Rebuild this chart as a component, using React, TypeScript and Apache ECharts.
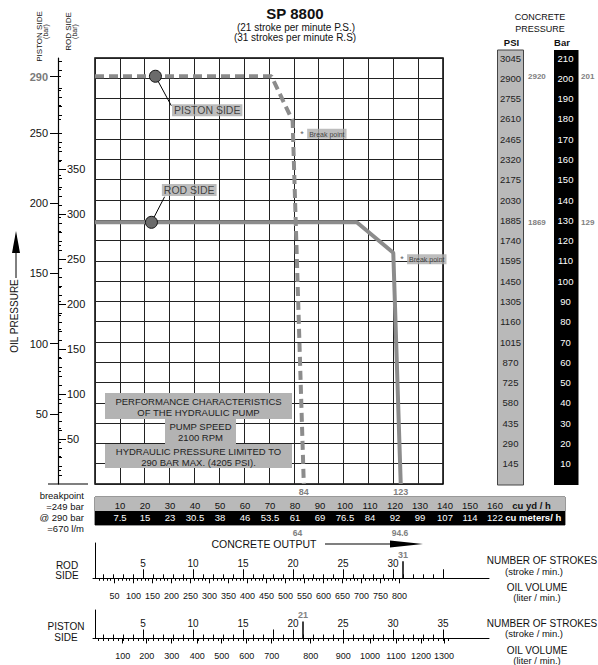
import React, { useEffect, useRef } from "react";
import * as echarts from "echarts";

const FONT = "'Liberation Sans', Arial, Helvetica, sans-serif";
const NARROW = "'Liberation Sans Narrow', 'Liberation Sans', Arial, sans-serif";

// ---------- data (concrete output in cu yd/h vs concrete pressure in bar) ----------
const pistonCurve = [[0, 201], [71, 201], [79.5, 179], [84, 0]];
const rodCurve = [[0, 129], [105.3, 129], [120, 114], [123, 0]];
const pistonMarker = [24.3, 201];
const rodMarker = [22.7, 129];
const pistonLeader = [[24.3, 201], [30.7, 186.5]];
const rodLeader = [[22.7, 129], [28, 141.6]];
const sideLabels = [
  { name: "PISTON SIDE", value: [30.8, 184.2] },
  { name: "ROD SIDE", value: [26.7, 144.9] },
];
const breakPoints = [[82.4, 172.6], [122.6, 110.8]];

// concrete pressure scale
const barTicks = [10, 20, 30, 40, 50, 60, 70, 80, 90, 100, 110, 120, 130, 140, 150, 160, 170, 180, 190, 200, 210];
const psiTicks = [145, 290, 435, 580, 725, 870, 1015, 1160, 1305, 1450, 1595, 1740, 1885, 2030, 2175, 2320, 2465, 2610, 2755, 2900, 3045];
const concreteMarksBar = [201, 129];
const concreteMarksPsi = ["2920", "1869"];

// oil pressure scales
const pistonOilTicks = [50, 100, 150, 200, 250, 290];
const rodOilTicks = [50, 100, 150, 200, 250, 300, 350];

// concrete output scales
const cuYdTicks = [10, 20, 30, 40, 50, 60, 70, 80, 90, 100, 110, 120, 130, 140, 150, 160];
const m3Labels = ["7.5", "15", "23", "30.5", "38", "46", "53.5", "61", "69", "76.5", "84", "92", "99", "107", "114", "122"];
const outputMarksCuYd = [84, 123];
const outputMarksM3 = ["64", "94.6"];
const outputMarksM3At = [81, 122];

// rod side scale
const rodStrokeLabels = [5, 10, 15, 20, 25, 30];
const rodStrokeMajor = [5, 10, 15, 20, 25, 30, 35];
const rodStrokeMark = [31];
const rodOilLabels = [50, 100, 150, 200, 250, 300, 350, 400, 450, 500, 550, 600, 650, 700, 750, 800];

// piston side scale
const pistonStrokeLabels = [5, 10, 15, 20, 25, 30, 35];
const pistonStrokeMajor = [5, 10, 15, 18, 20, 25, 30, 35];
const pistonStrokeMark = [21];
const pistonOilLabels = [100, 200, 300, 400, 500, 600, 700, 800, 900, 1000, 1100, 1200, 1300];
const pistonOilAtStroke = [2.97, 5.37, 7.87, 10.43, 12.87, 15.37, 17.87, 21.77, 25.03, 27.7, 30.3, 32.8, 35.1];

// ---------- helpers ----------
const steps = (a: number, b: number, s: number) => {
  const r: number[] = [];
  for (let v = a; v <= b + 1e-9; v += s) r.push(+v.toFixed(4));
  return r;
};
const lookup = (keys: number[], labels: (string | number)[]) => (v: number) => {
  let best = -1;
  let bd = Infinity;
  keys.forEach((k, i) => {
    const d = Math.abs(k - v);
    if (d < bd) { bd = d; best = i; }
  });
  return bd < 0.01 ? String(labels[best]) : "";
};
const off = {
  axisLine: { show: false, onZero: false },
  axisTick: { show: false },
  axisLabel: { show: false },
  splitLine: { show: false },
  splitArea: { show: false },
};
const blackLine = { show: true, onZero: false, lineStyle: { color: "#000", width: 1 } };

const CUYD_UNIT_AT = 174.6;
const M3_UNIT_AT = 175.3;
const ROD_OIL_MIN = -6.579;
const ROD_OIL_MAX = 1035.5;

const xAxis: any[] = [
  // 0 main output axis
  {
    ...off, gridIndex: 0, type: "value", min: 0, max: 140, interval: 10, position: "bottom",
    splitLine: { show: true, lineStyle: { color: "#222", width: 1 } },
    axisLabel: { show: true, customValues: outputMarksCuYd, formatter: (v: number) => String(v), color: "#808080", fontWeight: "bold", fontSize: 9, margin: 3, fontFamily: FONT },
  },
  // 1 cu yd / h labels in grey bar
  {
    ...off, gridIndex: 1, type: "value", min: 0, max: 188, position: "top",
    axisLabel: {
      show: true, inside: true, margin: 3, customValues: [...cuYdTicks, CUYD_UNIT_AT],
      formatter: (v: number) => (Math.abs(v - CUYD_UNIT_AT) < 0.01 ? "{u|cu yd / h}" : String(v)),
      color: "#111", fontSize: 9.5, fontFamily: FONT,
      rich: { u: { fontWeight: "bold", fontSize: 9.5, color: "#111", fontFamily: FONT } },
    },
  },
  // 2 cu meters / h labels in black bar
  {
    ...off, gridIndex: 1, type: "value", min: 0, max: 188, position: "bottom",
    axisLabel: {
      show: true, inside: true, margin: 3, customValues: [...cuYdTicks, M3_UNIT_AT],
      formatter: (v: number) => (Math.abs(v - M3_UNIT_AT) < 0.01 ? "{u|cu meters/ h}" : lookup(cuYdTicks, m3Labels)(v)),
      color: "#fff", fontSize: 9.5, fontFamily: FONT,
      rich: { u: { fontWeight: "bold", fontSize: 9.5, color: "#fff", fontFamily: FONT } },
    },
  },
  // 3 m3 marks below black bar
  {
    ...off, gridIndex: 1, type: "value", min: 0, max: 188, position: "bottom",
    axisLabel: { show: true, margin: 3, customValues: outputMarksM3At, formatter: lookup(outputMarksM3At, outputMarksM3), color: "#808080", fontWeight: "bold", fontSize: 8.5, fontFamily: FONT },
  },
  // 4 rod strokes minor + line + labels
  {
    ...off, gridIndex: 2, type: "value", min: 0, max: 39.6, position: "bottom",
    axisLine: blackLine,
    axisTick: { show: true, inside: true, length: 4, customValues: steps(1, 35, 1), lineStyle: { color: "#000", width: 1 } },
    axisLabel: { show: true, inside: true, margin: 10, customValues: rodStrokeLabels, color: "#111", fontSize: 10, fontFamily: FONT },
  },
  // 5 rod strokes major
  {
    ...off, gridIndex: 2, type: "value", min: 0, max: 39.6, position: "bottom",
    axisTick: { show: true, inside: true, length: 9, customValues: rodStrokeMajor, lineStyle: { color: "#000", width: 1 } },
  },
  // 6 rod mark 31
  {
    ...off, gridIndex: 2, type: "value", min: 0, max: 39.6, position: "bottom",
    axisTick: { show: true, inside: true, length: 17, customValues: rodStrokeMark, lineStyle: { color: "#000", width: 1.5 } },
    axisLabel: { show: true, inside: true, margin: 19, customValues: rodStrokeMark, color: "#808080", fontWeight: "bold", fontSize: 9, fontFamily: FONT },
  },
  // 7 rod oil volume
  {
    ...off, gridIndex: 2, type: "value", min: ROD_OIL_MIN, max: ROD_OIL_MAX, position: "bottom",
    axisTick: { show: true, length: 5, customValues: rodOilLabels, lineStyle: { color: "#000", width: 1 } },
    axisLabel: { show: true, margin: 13, customValues: rodOilLabels, color: "#111", fontSize: 9, fontFamily: FONT },
  },
  // 8 rod oil minor
  {
    ...off, gridIndex: 2, type: "value", min: ROD_OIL_MIN, max: ROD_OIL_MAX, position: "bottom",
    axisTick: { show: true, length: 2.5, customValues: steps(10, 800, 10), lineStyle: { color: "#000", width: 1 } },
  },
  // 9 piston strokes minor + line + labels
  {
    ...off, gridIndex: 3, type: "value", min: 0, max: 39.6, position: "bottom",
    axisLine: blackLine,
    axisTick: { show: true, inside: true, length: 4, customValues: steps(1, 35, 1), lineStyle: { color: "#000", width: 1 } },
    axisLabel: { show: true, inside: true, margin: 10, customValues: pistonStrokeLabels, color: "#111", fontSize: 10, fontFamily: FONT },
  },
  // 10 piston strokes major
  {
    ...off, gridIndex: 3, type: "value", min: 0, max: 39.6, position: "bottom",
    axisTick: { show: true, inside: true, length: 9, customValues: pistonStrokeMajor, lineStyle: { color: "#000", width: 1 } },
  },
  // 11 piston mark 21
  {
    ...off, gridIndex: 3, type: "value", min: 0, max: 39.6, position: "bottom",
    axisTick: { show: true, inside: true, length: 17, customValues: pistonStrokeMark, lineStyle: { color: "#000", width: 1.5 } },
    axisLabel: { show: true, inside: true, margin: 19, customValues: pistonStrokeMark, color: "#808080", fontWeight: "bold", fontSize: 9, fontFamily: FONT },
  },
  // 12 piston oil volume
  {
    ...off, gridIndex: 3, type: "value", min: 0, max: 39.6, position: "bottom",
    axisTick: { show: true, length: 5, customValues: pistonOilAtStroke, lineStyle: { color: "#000", width: 1 } },
    axisLabel: { show: true, margin: 13, customValues: pistonOilAtStroke, formatter: lookup(pistonOilAtStroke, pistonOilLabels), color: "#111", fontSize: 9, fontFamily: FONT },
  },
  // 13 piston oil minor
  {
    ...off, gridIndex: 3, type: "value", min: 0, max: 39.6, position: "bottom",
    axisTick: { show: true, length: 2.5, customValues: steps(0.5, 35.5, 0.5), lineStyle: { color: "#000", width: 1 } },
  },
];

const yAxis: any[] = [
  // 0 concrete pressure (bar) – main scale
  {
    ...off, gridIndex: 0, type: "value", min: 0, max: 210, interval: 10, position: "left",
    splitLine: { show: true, lineStyle: { color: "#222", width: 1 } },
  },
  // 1 piston side oil pressure
  {
    ...off, gridIndex: 0, type: "value", min: 0, max: 303.3, position: "left", offset: 37,
    axisLine: { show: true, onZero: false, lineStyle: { color: "#000", width: 1.2 } },
    axisTick: { show: true, length: 8, customValues: pistonOilTicks, lineStyle: { color: "#000", width: 1 } },
    axisLabel: {
      show: true, margin: 10, customValues: pistonOilTicks, color: "#111", fontSize: 11, fontFamily: FONT,
      formatter: (v: number) => (v === 290 ? "{g|290}" : String(v)),
      rich: { g: { color: "#7a7a7a", fontWeight: "bold", fontSize: 11, fontFamily: FONT } },
    },
  },
  // 2 rod side oil pressure
  {
    ...off, gridIndex: 0, type: "value", min: 0, max: 473.3, position: "left", offset: 37,
    axisTick: { show: true, inside: true, length: 8, customValues: rodOilTicks, lineStyle: { color: "#000", width: 1 } },
    axisLabel: { show: true, inside: true, margin: 9, customValues: rodOilTicks, color: "#111", fontSize: 11, fontFamily: FONT },
  },
  // 3 piston minor ticks
  {
    ...off, gridIndex: 0, type: "value", min: 0, max: 303.3, position: "left", offset: 37,
    axisTick: { show: true, inside: true, length: 3, customValues: steps(10, 300, 10).filter((v) => v % 50 !== 0), lineStyle: { color: "#000", width: 1 } },
  },
  // 4 rod minor ticks
  {
    ...off, gridIndex: 0, type: "value", min: 0, max: 473.3, position: "left", offset: 37,
    axisTick: { show: true, inside: true, length: 4, customValues: steps(10, 470, 10).filter((v) => v % 50 !== 0), lineStyle: { color: "#000", width: 1 } },
  },
  // 5 PSI column labels
  {
    ...off, gridIndex: 0, type: "value", min: 0, max: 210, position: "right", z: 5,
    axisLabel: { show: true, customValues: barTicks, formatter: lookup(barTicks, psiTicks), align: "center", margin: 67.5, color: "#222", fontSize: 9.5, fontFamily: FONT },
  },
  // 6 Bar column labels
  {
    ...off, gridIndex: 0, type: "value", min: 0, max: 210, position: "right", z: 5,
    axisLabel: { show: true, customValues: barTicks, formatter: (v: number) => String(v), align: "center", margin: 122.5, color: "#fff", fontSize: 9.5, fontFamily: FONT },
  },
  // 7 PSI marks
  {
    ...off, gridIndex: 0, type: "value", min: 0, max: 210, position: "right", z: 5,
    axisLabel: { show: true, customValues: concreteMarksBar, formatter: lookup(concreteMarksBar, concreteMarksPsi), align: "left", margin: 85, color: "#808080", fontWeight: "bold", fontSize: 8, fontFamily: FONT },
  },
  // 8 Bar marks
  {
    ...off, gridIndex: 0, type: "value", min: 0, max: 210, position: "right", z: 5,
    axisLabel: { show: true, customValues: concreteMarksBar, formatter: (v: number) => String(v), align: "left", margin: 138, color: "#808080", fontWeight: "bold", fontSize: 8, fontFamily: FONT },
  },
  // 9 output bars background
  {
    ...off, gridIndex: 1, type: "value", min: 0, max: 2, interval: 1,
    splitArea: { show: true, areaStyle: { color: ["#000000", "#b9b9b9"] } },
  },
  // 10 rod scale vertical
  { ...off, gridIndex: 2, type: "value", min: 0, max: 1, position: "left", offset: -2, axisLine: blackLine },
  // 11 piston scale vertical
  { ...off, gridIndex: 3, type: "value", min: 0, max: 1, position: "left", offset: -2, axisLine: blackLine },
];

const txt = (x: number, y: number, text: string, o: any = {}) => ({
  type: "text", x, y, silent: true, z: 10,
  style: { text, fill: "#111", fontFamily: FONT, fontSize: 10, align: "center", verticalAlign: "middle", ...o },
});
const rot = (x: number, y: number, text: string, o: any = {}) => ({ ...txt(x, y, text, o), rotation: Math.PI / 2 });
const box = (x: number, y: number, w: number, h: number, fill: string, z = 1, stroke?: string) => ({
  type: "rect", silent: true, z, shape: { x, y, width: w, height: h },
  style: stroke ? { fill, stroke, lineWidth: 1 } : { fill },
});

const graphic: any[] = [
  // title
  txt(295, 13.5, "SP 8800", { fontSize: 15, fontWeight: "bold", lineHeight: 15 }),
  txt(296, 27.8, "(21 stroke per minute P.S.)", { fontSize: 10, lineHeight: 10 }),
  txt(295, 37.8, "(31 strokes per minute R.S)", { fontSize: 10, lineHeight: 10 }),
  // concrete pressure header
  txt(540, 17, "CONCRETE", { fontSize: 9 }),
  txt(540, 28.7, "PRESSURE", { fontSize: 9 }),
  txt(511.5, 42, "PSI", { fontSize: 9.5, fontWeight: "bold" }),
  txt(562, 42, "Bar", { fontSize: 9.5, fontWeight: "bold" }),
  box(497.5, 50, 26, 435, "#b9b9b9", 0, "#444"),
  box(554, 50, 24.5, 435, "#000", 0),
  // left axis titles
  rot(39, 36.5, "PISTON SIDE", { fontSize: 8, fontFamily: NARROW }),
  rot(45.5, 31.5, "(bar)", { fontSize: 7, fontFamily: NARROW }),
  rot(68, 31.5, "ROD SIDE", { fontSize: 8, fontFamily: NARROW }),
  rot(74.5, 31.5, "(bar)", { fontSize: 7, fontFamily: NARROW }),
  rot(14, 316, "OIL PRESSURE", { fontSize: 10 }),
  { type: "line", silent: true, z: 10, shape: { x1: 16, y1: 278, x2: 16, y2: 250 }, style: { stroke: "#000", lineWidth: 1 } },
  { type: "polygon", silent: true, z: 10, shape: { points: [[12, 253], [20, 253], [16, 231]] }, style: { fill: "#000" } },
  { type: "line", silent: true, z: 10, shape: { x1: 48, y1: 484, x2: 88, y2: 484 }, style: { stroke: "#000", lineWidth: 1.2 } },
  // info boxes
  box(105, 393, 187, 26, "#b3b3b3", 3),
  txt(198.5, 401, "PERFORMANCE CHARACTERISTICS", { fontSize: 9.5, fill: "#222" }),
  txt(198.5, 412, "OF THE HYDRAULIC PUMP", { fontSize: 9.5, fill: "#222" }),
  box(165, 419, 71, 25, "#b3b3b3", 3),
  txt(200.5, 426, "PUMP SPEED", { fontSize: 9.5, fill: "#222" }),
  txt(200.5, 437, "2100 RPM", { fontSize: 9.5, fill: "#222" }),
  box(105, 444, 187, 24, "#b3b3b3", 3),
  txt(198.5, 451, "HYDRAULIC PRESSURE LIMITED TO", { fontSize: 9.5, fill: "#222" }),
  txt(198.5, 462.5, "290 BAR MAX. (4205 PSI).", { fontSize: 9.5, fill: "#222" }),
  // breakpoint note
  txt(84, 495, "breakpoint", { fontSize: 9.5, align: "right" }),
  txt(84, 506, "=249 bar", { fontSize: 9.5, align: "right" }),
  txt(84, 517, "@ 290 bar", { fontSize: 9.5, align: "right" }),
  txt(84, 528, "=670 l/m", { fontSize: 9.5, align: "right" }),
  // concrete output
  txt(264, 543.5, "CONCRETE OUTPUT", { fontSize: 10.5 }),
  { type: "line", silent: true, z: 10, shape: { x1: 325, y1: 544, x2: 395, y2: 544 }, style: { stroke: "#000", lineWidth: 1.2 } },
  { type: "polygon", silent: true, z: 10, shape: { points: [[390, 540.5], [423, 544], [390, 547.5]] }, style: { fill: "#000" } },
  // rod side scale
  txt(67, 565, "ROD", { fontSize: 10 }),
  txt(67, 575.5, "SIDE", { fontSize: 10 }),
  txt(542, 560, "NUMBER OF STROKES", { fontSize: 10 }),
  txt(534, 571, "(stroke / min.)", { fontSize: 9.5 }),
  txt(537, 587, "OIL VOLUME", { fontSize: 10 }),
  txt(537, 597, "(liter / min.)", { fontSize: 9.5 }),
  // piston side scale
  txt(66, 626, "PISTON", { fontSize: 10 }),
  txt(66, 637, "SIDE", { fontSize: 10 }),
  txt(542, 623, "NUMBER OF STROKES", { fontSize: 10 }),
  txt(534, 633.5, "(stroke / min.)", { fontSize: 9.5 }),
  txt(537, 650, "OIL VOLUME", { fontSize: 10 }),
  txt(537, 660, "(liter / min.)", { fontSize: 9.5 }),
];

const series: any[] = [
  {
    type: "line", name: "Piston side", xAxisIndex: 0, yAxisIndex: 0, data: pistonCurve,
    symbol: "none", showSymbol: false, z: 3, silent: true,
    lineStyle: { color: "#8c8c8c", width: 4, type: [9, 5] },
  },
  {
    type: "line", name: "Rod side", xAxisIndex: 0, yAxisIndex: 0, data: rodCurve,
    symbol: "none", showSymbol: false, z: 3, silent: true,
    lineStyle: { color: "#8c8c8c", width: 4 },
  },
  { type: "line", xAxisIndex: 0, yAxisIndex: 0, data: pistonLeader, symbol: "none", z: 4, silent: true, lineStyle: { color: "#000", width: 1 } },
  { type: "line", xAxisIndex: 0, yAxisIndex: 0, data: rodLeader, symbol: "none", z: 4, silent: true, lineStyle: { color: "#000", width: 1 } },
  {
    type: "scatter", xAxisIndex: 0, yAxisIndex: 0, data: [pistonMarker, rodMarker], symbolSize: 12, z: 5, silent: true,
    itemStyle: { color: "#6b6b6b", borderColor: "#111", borderWidth: 1, opacity: 1 },
  },
  {
    type: "scatter", xAxisIndex: 0, yAxisIndex: 0, data: sideLabels, symbolSize: 1, z: 6, silent: true,
    itemStyle: { color: "rgba(0,0,0,0)" },
    label: {
      show: true, position: "right", distance: 0, formatter: "{b}", backgroundColor: "#adadad",
      padding: [1, 2, 0, 2], color: "#222", fontSize: 10.5, fontFamily: FONT,
    },
  },
  {
    type: "scatter", xAxisIndex: 0, yAxisIndex: 0, data: breakPoints, symbolSize: 1, z: 6, silent: true,
    itemStyle: { color: "rgba(0,0,0,0)" },
    label: {
      show: true, position: "right", distance: 0, formatter: "{s|*} {b|Break point}",
      rich: {
        s: { fontSize: 9, color: "#333", fontFamily: FONT },
        b: { fontSize: 7, color: "#222", backgroundColor: "#adadad", padding: [2, 2, 1, 2], fontFamily: FONT },
      },
    },
  },
];

const option: any = {
  animation: false,
  backgroundColor: "#ffffff",
  textStyle: { fontFamily: FONT },
  grid: [
    { left: 95, top: 58, width: 348, height: 426, show: true, borderColor: "#000", borderWidth: 1.5, backgroundColor: "rgba(0,0,0,0)" },
    { left: 95, top: 497, width: 470, height: 28, show: true, borderColor: "#333", borderWidth: 1, backgroundColor: "rgba(0,0,0,0)" },
    { left: 93, top: 543, width: 396, height: 35.3 },
    { left: 93, top: 610, width: 396, height: 28.5 },
  ],
  xAxis,
  yAxis,
  series,
  graphic,
};

export default function App() {
  const ref = useRef<HTMLDivElement>(null);
  useEffect(() => {
    document.body.style.margin = "0";
    const chart = echarts.init(ref.current as HTMLDivElement, null, { renderer: "svg", width: 598, height: 665 });
    chart.setOption(option);
    return () => chart.dispose();
  }, []);
  return <div ref={ref} style={{ width: 598, height: 665 }} />;
}
